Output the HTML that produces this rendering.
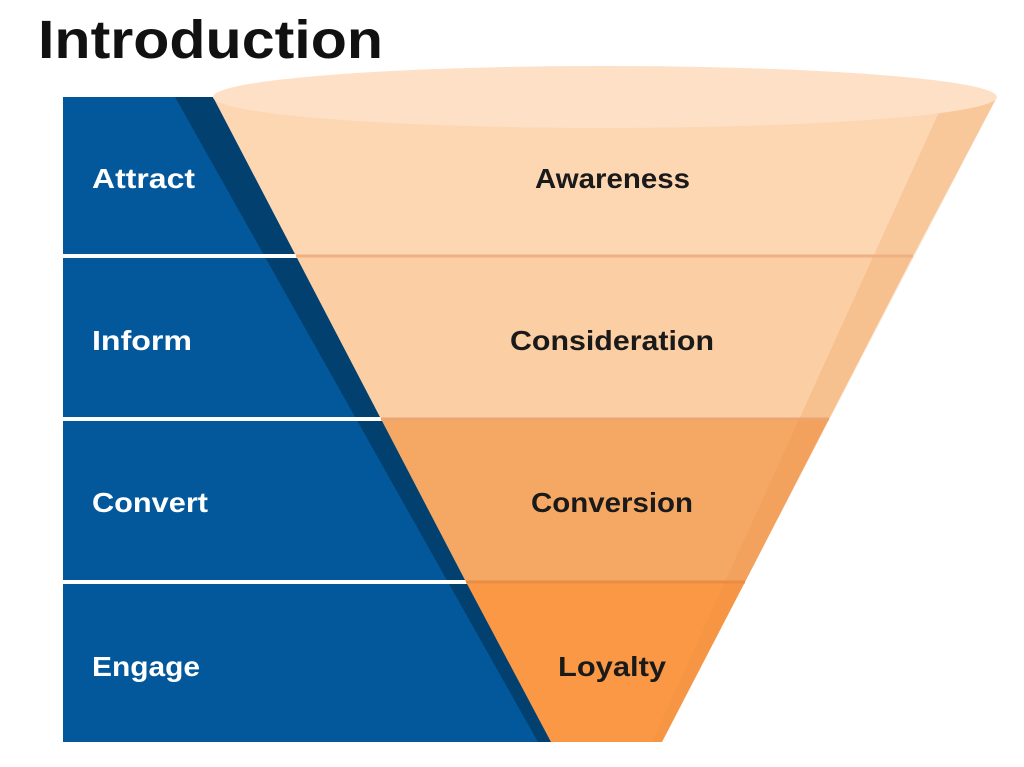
<!DOCTYPE html>
<html><head><meta charset="utf-8"><style>
html,body{margin:0;padding:0;background:#fff;width:1024px;height:767px;overflow:hidden}
</style></head><body>
<svg width="1024" height="767" viewBox="0 0 1024 767" xmlns="http://www.w3.org/2000/svg" font-family="'Liberation Sans', 'DejaVu Sans', sans-serif">
<text x="38" y="58" font-size="54" font-weight="bold" fill="#111" textLength="345" lengthAdjust="spacingAndGlyphs">Introduction</text>
<rect x="63" y="97" width="500" height="645" fill="#02589a"/>
<polygon points="175,97 213,97 551,742 538,742" fill="#01406f"/>
<rect x="63" y="254" width="500" height="4" fill="#fff"/>
<rect x="63" y="417" width="500" height="4" fill="#fff"/>
<rect x="63" y="580" width="500" height="4" fill="#fff"/>
<polygon points="213,97 997,97 913,256 296,256" fill="#fdd6b2"/>
<polygon points="296,256 913,256 829,419 381,419" fill="#fbcfa3"/>
<polygon points="381,419 829,419 745,582 466,582" fill="#f5a864"/>
<polygon points="466,582 745,582 662,742 551,742" fill="#fa9845"/>
<polygon points="940,110 997,97 662,742 652,742" fill="#e88a3c" opacity="0.2"/>
<line x1="296" y1="256" x2="913" y2="256" stroke="#efb083" stroke-width="3"/>
<line x1="381" y1="419" x2="829" y2="419" stroke="#eca472" stroke-width="3"/>
<line x1="466" y1="582" x2="745" y2="582" stroke="#e98c45" stroke-width="3"/>
<ellipse cx="605" cy="97" rx="392" ry="31" fill="#fde0c5"/>
<g font-weight="bold" font-size="28" fill="#fff">
<text x="92" y="188" textLength="103" lengthAdjust="spacingAndGlyphs">Attract</text>
<text x="92" y="350" textLength="100" lengthAdjust="spacingAndGlyphs">Inform</text>
<text x="92" y="512" textLength="116" lengthAdjust="spacingAndGlyphs">Convert</text>
<text x="92" y="676" textLength="108" lengthAdjust="spacingAndGlyphs">Engage</text>
</g>
<g font-weight="bold" font-size="28" fill="#1a1a1a">
<text x="535" y="188" textLength="155" lengthAdjust="spacingAndGlyphs">Awareness</text>
<text x="510" y="350" textLength="204" lengthAdjust="spacingAndGlyphs">Consideration</text>
<text x="531" y="512" textLength="162" lengthAdjust="spacingAndGlyphs">Conversion</text>
<text x="558" y="676" textLength="108" lengthAdjust="spacingAndGlyphs">Loyalty</text>
</g>
</svg>
</body></html>
